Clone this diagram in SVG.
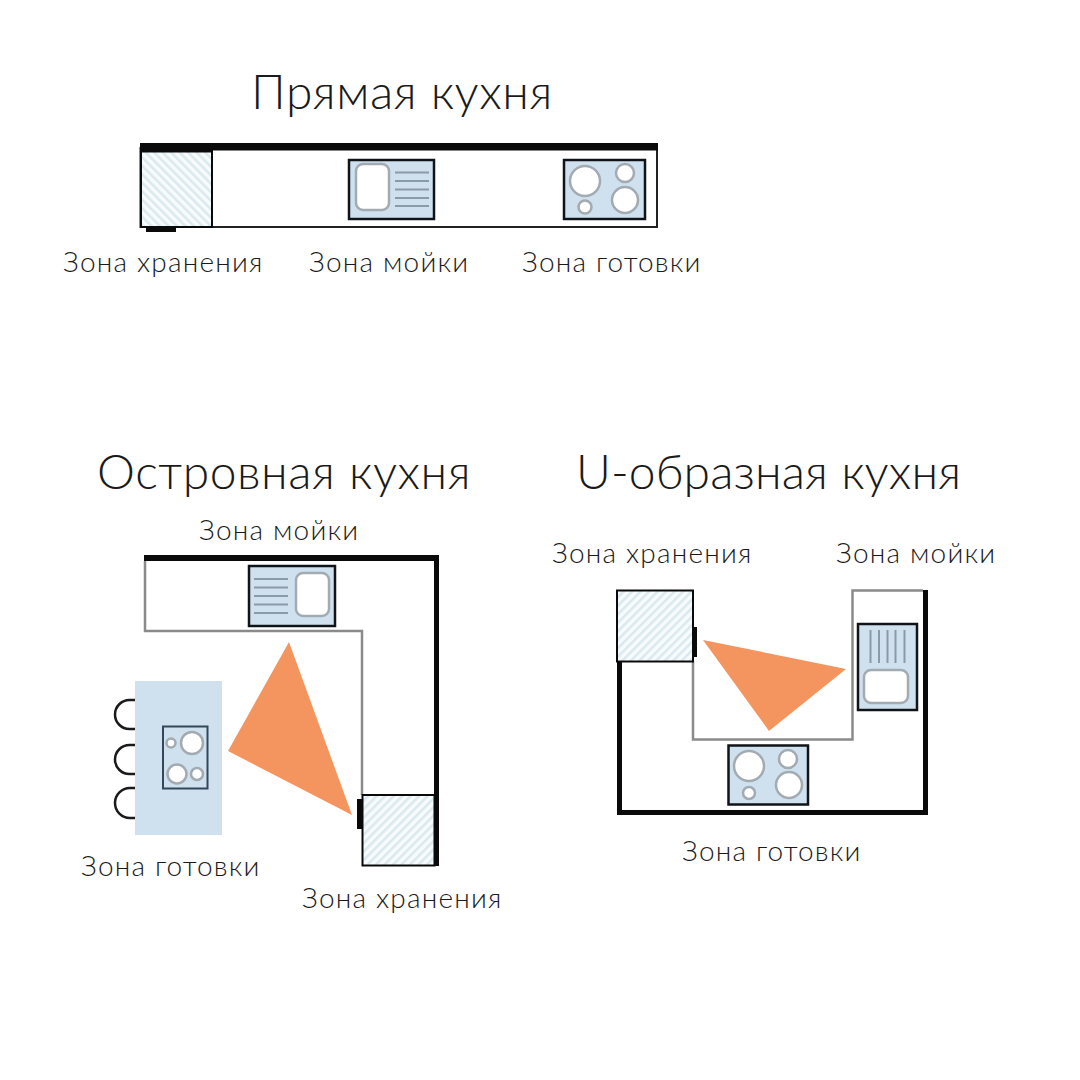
<svg xmlns="http://www.w3.org/2000/svg" width="1080" height="1080" viewBox="0 0 1080 1080">
<style>
text{font-family:"Lato","Noto Sans",sans-serif;font-weight:300;fill:#1a1a1a}
.t{font-size:48px;letter-spacing:.55px}
.l{font-size:28px;letter-spacing:1.2px}
.wall{fill:#0a0a0a}
.gray{fill:none;stroke:#8a8a8a;stroke-width:2.5}
.unit{fill:#cfe1ef;stroke:#101418;stroke-width:2.5}
.basin{fill:#fff;stroke:#a3abb2;stroke-width:2.5}
.drain{stroke:#8b9aa8;stroke-width:2}
.store{fill:url(#hatch);stroke:#0a0a0a;stroke-width:2}
.store2{fill:url(#hatch2);stroke:#0a0a0a;stroke-width:2}
.tri{fill:#f4955f}
.stool{fill:none;stroke:#1a1a1a;stroke-width:2.5}
</style>
<defs>
<pattern id="hatch" width="6" height="6" patternUnits="userSpaceOnUse" patternTransform="rotate(45)">
<rect width="6" height="6" fill="#f7fbfc"/>
<rect width="2.500" height="6" fill="#d9e9ef"/>
</pattern>
<pattern id="hatch2" width="6" height="6" patternUnits="userSpaceOnUse" patternTransform="rotate(-45)">
<rect width="6" height="6" fill="#f7fbfc"/>
<rect width="2.500" height="6" fill="#d9e9ef"/>
</pattern>
</defs>
<rect width="1080" height="1080" fill="#fff"/>

<g id="straight-kitchen">
<text class="t" x="251" y="109">Прямая кухня</text>
<rect x="140.500" y="148" width="516.500" height="79" fill="#fff" stroke="#222" stroke-width="2"/>
<rect class="wall" x="140" y="143" width="518" height="7.500"/>
<g id="straight-storage">
<rect class="store2" x="141" y="151" width="71" height="76"/>
<rect class="wall" x="140" y="150" width="72" height="2.500"/>
<rect class="wall" x="146" y="228" width="30" height="4"/>
<text class="l" x="63" y="272">Зона хранения</text>
</g>
<g id="straight-sink">
<rect class="unit" x="349" y="160" width="85" height="59"/>
<rect class="basin" x="356" y="164" width="33" height="46" rx="7"/>
<path class="drain" d="M395 172.500H429M395 181H429M395 189.500H429M395 198H429M395 206H429"/>
<text class="l" x="309" y="272">Зона мойки</text>
</g>
<g id="straight-hob">
<rect class="unit" x="564" y="160" width="81" height="59"/>
<circle class="basin" cx="585" cy="181" r="15"/>
<circle class="basin" cx="625" cy="173" r="9"/>
<circle class="basin" cx="625" cy="200" r="13"/>
<circle class="basin" cx="585" cy="207" r="6.500"/>
<text class="l" x="522" y="272">Зона готовки</text>
</g>
</g>

<g id="island-kitchen">
<text class="t" x="97" y="489">Островная кухня</text>
<path class="gray" d="M145 561V631H362V795"/>
<path class="wall" d="M144 555H439V866H434V561H144Z"/>
<g id="island-sink">
<rect class="unit" x="249" y="566" width="86" height="60"/>
<rect class="basin" x="296" y="573" width="33" height="43" rx="7"/>
<path class="drain" d="M254 579H288M254 587.500H288M254 596H288M254 604.500H288M254 613H288"/>
<text class="l" x="199" y="540">Зона мойки</text>
</g>
<polygon class="tri" points="289,642 228,751 352,815"/>
<g id="island-hob">
<path class="stool" d="M135 700H129.500A14.500 14.500 0 0 0 129.500 729H135"/>
<path class="stool" d="M135 745H129.500A14.500 14.500 0 0 0 129.500 774H135"/>
<path class="stool" d="M135 788H130A15 15 0 0 0 130 818H135"/>
<rect x="135" y="681" width="87" height="154" fill="#cfe1ef"/>
<rect x="163" y="726.500" width="44.500" height="62" fill="#cfe1ef" stroke="#33475a" stroke-width="2"/>
<circle class="basin" cx="171" cy="743" r="4.500" stroke-width="2"/>
<circle class="basin" cx="192" cy="743" r="11" stroke-width="2"/>
<circle class="basin" cx="177" cy="774" r="9.500" stroke-width="2"/>
<circle class="basin" cx="197" cy="774" r="6" stroke-width="2"/>
<text class="l" x="81" y="876">Зона готовки</text>
</g>
<g id="island-storage">
<rect class="store" x="362.500" y="795" width="72" height="70.500"/>
<rect class="wall" x="357" y="799" width="5" height="30"/>
<text class="l" x="302" y="908">Зона хранения</text>
</g>
</g>

<g id="u-kitchen">
<text class="t" x="576" y="489" style="letter-spacing:.1px">U-образная кухня</text>
<path class="gray" d="M923 590.500H852.500V739.500H693V661"/>
<path class="wall" d="M617 661H622V810H923V590H928V815H617Z"/>
<g id="u-storage">
<rect class="store" x="617" y="590.500" width="76" height="71"/>
<rect class="wall" x="693" y="627" width="4" height="30"/>
<text class="l" x="552" y="563">Зона хранения</text>
</g>
<polygon class="tri" points="703,640 846,669 769,731"/>
<g id="u-sink">
<rect class="unit" x="858" y="624" width="59" height="86"/>
<rect class="basin" x="864" y="670" width="44" height="33" rx="7"/>
<path class="drain" d="M870.500 630V663M879 630V663M887.500 630V663M895.500 630V663M904.500 630V663"/>
<text class="l" x="836" y="563">Зона мойки</text>
</g>
<g id="u-hob">
<rect class="unit" x="728.500" y="745.500" width="79.500" height="59"/>
<circle class="basin" cx="749" cy="766" r="15"/>
<circle class="basin" cx="788" cy="759" r="9"/>
<circle class="basin" cx="789" cy="785" r="13"/>
<circle class="basin" cx="749" cy="793" r="6"/>
<text class="l" x="682" y="861">Зона готовки</text>
</g>
</g>
</svg>
